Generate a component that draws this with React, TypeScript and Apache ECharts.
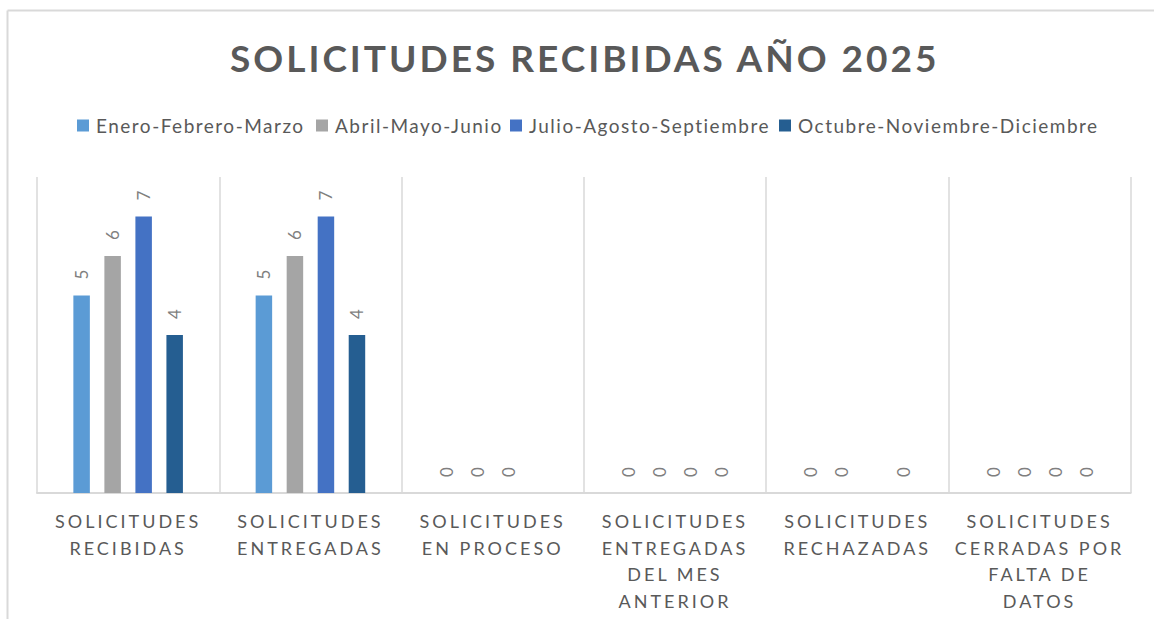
import React, { useEffect, useRef } from "react";
import * as echarts from "echarts";

const titleText = "SOLICITUDES RECIBIDAS AÑO 2025";
const categories = [
  "SOLICITUDES RECIBIDAS",
  "SOLICITUDES ENTREGADAS",
  "SOLICITUDES EN PROCESO",
  "SOLICITUDES ENTREGADAS DEL MES ANTERIOR",
  "SOLICITUDES RECHAZADAS",
  "SOLICITUDES CERRADAS POR FALTA DE DATOS",
];
const tickLabels = [
  "SOLICITUDES\nRECIBIDAS",
  "SOLICITUDES\nENTREGADAS",
  "SOLICITUDES\nEN PROCESO",
  "SOLICITUDES\nENTREGADAS\nDEL MES\nANTERIOR",
  "SOLICITUDES\nRECHAZADAS",
  "SOLICITUDES\nCERRADAS POR\nFALTA DE\nDATOS",
];
const seriesNames = [
  "Enero-Febrero-Marzo",
  "Abril-Mayo-Junio",
  "Julio-Agosto-Septiembre",
  "Octubre-Noviembre-Diciembre",
];
const q1 = [5, 5, 0, 0, 0, 0];
const q2 = [6, 6, 0, 0, 0, 0];
const q3 = [7, 7, 0, 0, null, 0];
const q4 = [4, 4, null, 0, 0, 0];
const seriesValues = [q1, q2, q3, q4];
const colors = ["#5B9BD5", "#A5A5A5", "#4472C4", "#255E91"];
const legendLefts = [77, 316, 510, 779];

export default function App() {
  const ref = useRef<HTMLDivElement>(null);
  useEffect(() => {
    if (!ref.current) return;
    const chart = echarts.init(ref.current, null, { renderer: "svg" });
    chart.setOption({
      animation: false,
      backgroundColor: "#ffffff",
      title: {
        text: titleText,
        left: 225,
        top: 34,
        textStyle: {
          fontFamily: "Lato",
          fontWeight: "bold",
          fontSize: 37,
          color: "#595959",
        },
      },
      legend: seriesNames.map((name, i) => ({
        top: 116,
        left: legendLefts[i],
        padding: 0,
        itemWidth: 12,
        itemHeight: 12,
        icon: "rect",
        textStyle: { fontFamily: "Lato", fontSize: 19, color: "#595959", padding: [0, 0, 0, 2] },
        data: [name],
      })),
      graphic: [
        { type: "line", shape: { x1: 7.5, y1: 10.5, x2: 1154, y2: 10.5 }, style: { stroke: "#D9D9D9", lineWidth: 2 } },
        { type: "line", shape: { x1: 7.5, y1: 10.5, x2: 7.5, y2: 619 }, style: { stroke: "#D9D9D9", lineWidth: 2 } },
      ],
      grid: { left: 37, right: 23.3, top: 177, bottom: 126, containLabel: false },
      xAxis: {
        type: "category",
        data: categories,
        axisLine: { lineStyle: { color: "#D9D9D9", width: 2 } },
        axisTick: { show: false },
        splitLine: { show: true, interval: 0, lineStyle: { color: "#D9D9D9", width: 1.5 } },
        axisLabel: {
          interval: 0,
          margin: 15,
          color: "#595959",
          fontFamily: "Lato",
          fontSize: 18,
          lineHeight: 26.5,
          formatter: (_v: string, i: number) => tickLabels[i],
        },
      },
      yAxis: {
        type: "value",
        min: 0,
        max: 8,
        interval: 1,
        show: false,
        splitLine: { show: false },
      },
      series: seriesNames.map((name, i) => ({
        name,
        type: "bar",
        data: seriesValues[i].map((v) => (v === null ? "-" : v)),
        barWidth: 16.5,
        barGap: "88%",
        itemStyle: { color: colors[i] },
        label: {
          show: true,
          position: "top",
          rotate: 90,
          align: "left",
          verticalAlign: "middle",
          distance: 16,
          color: "#7F7F7F",
          fontFamily: "Lato",
          fontSize: 17,
        },
      })),
    });
    return () => chart.dispose();
  }, []);
  return (
    <>
      <style>{`
        text[style*="18px"] { letter-spacing: 3px; }
        text[style*="19px"] { letter-spacing: 1.5px; }
        text[style*="37px"] { letter-spacing: 3px; }
      `}</style>
      <div ref={ref} style={{ position: "fixed", left: 0, top: 0, width: 1154, height: 619 }} />
    </>
  );
}
